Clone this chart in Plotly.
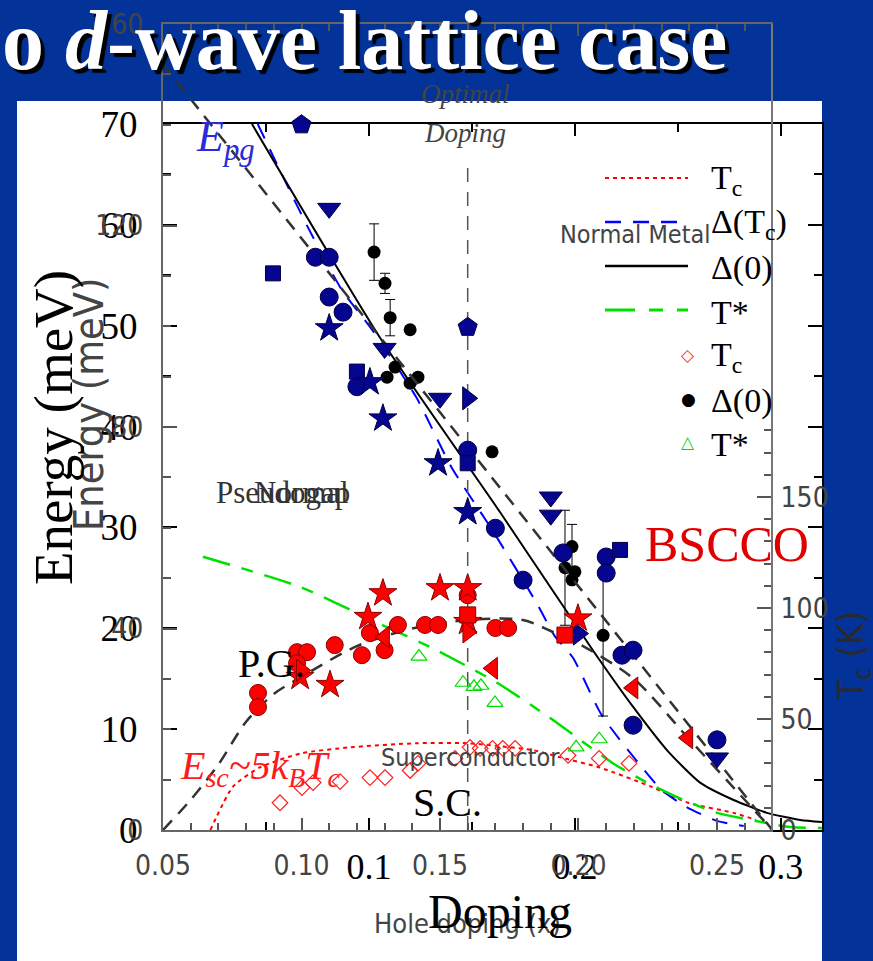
import plotly.graph_objects as go

W, H = 873, 961

def px(x):
    return x / W

def py(y):
    return 1 - y / H

SERIF = "Liberation Serif, Times New Roman, serif"
NARROW = "Liberation Sans Narrow, DejaVu Sans Condensed, Arial Narrow, sans-serif"
GRAY = "#444444"

# ---------------- slide (model) curves : doping vs energy (meV) ----------------
TC_CURVE_X = [0.023, 0.034, 0.047, 0.067, 0.091, 0.123, 0.148, 0.180, 0.193, 0.212, 0.237, 0.255, 0.277, 0.288]
TC_CURVE_E = [0.0, 4.3, 6.2, 7.6, 8.2, 8.6, 8.6, 7.9, 7.2, 6.2, 4.3, 2.7, 1.7, 1.0]

DTC_CURVE_X = [0.046, 0.062, 0.071, 0.087, 0.1015, 0.123, 0.140, 0.160, 0.182, 0.190, 0.199, 0.213, 0.231, 0.242, 0.254, 0.269, 0.282]
DTC_CURVE_E = [70.0, 63.2, 59.5, 53.5, 49.6, 42.9, 36.0, 29.7, 22.3, 19.3, 17.1, 11.4, 6.6, 4.0, 2.3, 0.9, 0.4]

D0_CURVE_X = [0.0432, 0.1054, 0.1637, 0.2088, 0.2283, 0.2448, 0.2608, 0.2768, 0.2933, 0.3094, 0.320]
D0_CURVE_E = [70.0, 48.8, 31.5, 17.8, 12.2, 7.9, 4.7, 3.0, 1.7, 1.0, 0.8]

TSTAR_CURVE_X = [0.0194, 0.0665, 0.1068, 0.1311, 0.1622, 0.188, 0.2186, 0.2351, 0.2525, 0.2691, 0.2851, 0.3045, 0.320]
TSTAR_CURVE_E = [27.1, 24.1, 20.3, 18.0, 14.6, 11.1, 6.6, 4.7, 3.0, 1.7, 1.0, 0.3, 0.2]

# slide experimental points
TC_PTS_X = [0.0568, 0.0675, 0.0729, 0.086, 0.1005, 0.1078, 0.120, 0.1238, 0.1418, 0.1491, 0.154, 0.160, 0.165, 0.171, 0.1967, 0.2118, 0.2263]
TC_PTS_E = [2.7, 4.2, 4.7, 4.8, 5.2, 5.2, 5.9, 6.6, 7.1, 8.2, 8.1, 8.1, 8.1, 8.1, 7.4, 7.1, 6.6]

D0_PTS_X = [0.1025, 0.1078, 0.1103, 0.120, 0.1088, 0.1127, 0.120, 0.1238, 0.1598, 0.1986, 0.1952, 0.200, 0.1986, 0.2137]
D0_PTS_E = [57.3, 54.2, 50.8, 49.6, 44.9, 45.9, 44.3, 44.9, 37.5, 28.1, 26.0, 25.6, 24.8, 19.3]
D0_PTS_ERR = [2.8, 1.0, 1.8, 0, 0, 0, 0, 0, 0, 2.2, 5.7, 0, 0, 8.0]

TSTAR_PTS_X = [0.1243, 0.1457, 0.151, 0.1544, 0.1612, 0.2006, 0.2118]
TSTAR_PTS_E = [17.2, 14.6, 14.2, 14.3, 12.6, 8.2, 9.0]

# ---------------- inset (compiled data): hole doping vs energy (meV) ----------------
EPG_LINE_X = [0.05, 0.27]
EPG_LINE_E = [152.0, 0.0]
ESC_DOME_X = [0.05, 0.06, 0.07, 0.08, 0.09, 0.10, 0.12, 0.14, 0.16, 0.18, 0.19, 0.20, 0.22, 0.24, 0.26, 0.27]
ESC_DOME_E = [0.0, 6.0, 13.0, 21.5, 27.0, 30.4, 36.5, 40.0, 41.7, 41.7, 39.5, 37.0, 30.0, 18.0, 6.0, 0.0]
OPT_X = [0.16, 0.16]
OPT_E = [0.0, 133.0]

EPG_PENT_X = [0.100, 0.160]
EPG_PENT_E = [140.0, 99.8]
EPG_TRIDN_X = [0.110, 0.130, 0.150, 0.190, 0.190, 0.250]
EPG_TRIDN_E = [123.4, 95.6, 85.7, 66.1, 62.5, 14.3]
EPG_CIRC_X = [0.105, 0.110, 0.110, 0.115, 0.120, 0.160, 0.170, 0.180, 0.1944, 0.210, 0.210, 0.2157, 0.2197, 0.2197, 0.250]
EPG_CIRC_E = [113.7, 113.7, 105.8, 102.8, 88.0, 75.4, 59.9, 49.6, 55.0, 54.2, 51.0, 34.7, 35.7, 20.8, 17.9]
EPG_SQ_X = [0.0897, 0.120, 0.160, 0.215]
EPG_SQ_E = [110.5, 91.0, 72.8, 55.6]
EPG_STAR_X = [0.110, 0.1247, 0.1294, 0.1493, 0.160]
EPG_STAR_E = [99.6, 88.9, 81.7, 72.8, 63.1]
EPG_TRIR_X = [0.160, 0.200]
EPG_TRIR_E = [85.7, 39.0]

ESC_CIRC_X = [0.0843, 0.0843, 0.0984, 0.102, 0.0984, 0.112, 0.1218, 0.1247, 0.130, 0.1348, 0.1446, 0.1493, 0.170, 0.1746, 0.160]
ESC_CIRC_E = [27.2, 24.4, 35.3, 35.3, 33.1, 36.7, 34.7, 39.1, 35.7, 40.7, 40.7, 40.7, 40.1, 40.1, 46.6]
ESC_STAR_X = [0.0995, 0.1103, 0.124, 0.1294, 0.150, 0.160, 0.160, 0.1998]
ESC_STAR_E = [30.4, 28.8, 42.3, 47.0, 48.0, 48.0, 41.3, 42.0]
ESC_SQ_X = [0.160, 0.1951]
ESC_SQ_E = [42.7, 38.7]
ESC_TRIR_X = [0.0999, 0.160]
ESC_TRIR_E = [31.7, 39.3]
ESC_TRIL_X = [0.130, 0.169, 0.2197, 0.2395]
ESC_TRIL_E = [38.3, 32.1, 28.2, 18.3]

# ---------------- ticks ----------------
SLIDE_Y_TICKS = [0, 10, 20, 30, 40, 50, 60, 70]
SLIDE_X_TICKS = [0.1, 0.2, 0.3]
SLIDE_X_LABELS = ["0.1", "0.2", "0.3"]
INSET_Y_TICKS = [0, 40, 80, 120, 160]
INSET_X_TICKS = [0.05, 0.10, 0.15, 0.20, 0.25]
INSET_X_LABELS = ["0.05", "0.10", "0.15", "0.20", "0.25"]
TC_TICKS = [0, 50, 100, 150]
TC_MINOR = [10, 20, 30, 40, 60, 70, 80, 90, 110, 120, 130, 140, 160, 170, 180]

LEGEND_LABELS = ["T<sub>c</sub>", "Δ(T<sub>c</sub>)", "Δ(0)", "T*", "T<sub>c</sub>", "Δ(0)", "T*"]

fig = go.Figure()

# ---- inset lines (x2/y2)
fig.add_trace(go.Scatter(x=EPG_LINE_X, y=EPG_LINE_E, mode="lines", xaxis="x2", yaxis="y2",
                         line=dict(color="#333333", width=2.5, dash="13px,9px"), hoverinfo="skip"))
fig.add_trace(go.Scatter(x=ESC_DOME_X, y=ESC_DOME_E, mode="lines", xaxis="x2", yaxis="y2",
                         line=dict(color="#333333", width=2.5, dash="13px,9px", shape="spline", smoothing=0.8),
                         hoverinfo="skip"))
fig.add_trace(go.Scatter(x=OPT_X, y=OPT_E, mode="lines", xaxis="x2", yaxis="y2",
                         line=dict(color="#555555", width=1.5, dash="14px,10px"), hoverinfo="skip"))

# ---- slide curves (x/y)
def slide_line(x, y, color, dash, width):
    fig.add_trace(go.Scatter(x=x, y=y, mode="lines", xaxis="x", yaxis="y",
                             line=dict(color=color, dash=dash, width=width, shape="spline", smoothing=0.6),
                             hoverinfo="skip"))

slide_line(TC_CURVE_X, TC_CURVE_E, "#ff0000", "4px,4px", 2)
slide_line(DTC_CURVE_X, DTC_CURVE_E, "#0000ff", "16px,12px", 2)
slide_line(D0_CURVE_X, D0_CURVE_E, "#000000", "solid", 2)
slide_line(TSTAR_CURVE_X, TSTAR_CURVE_E, "#00e000", "28px,12px,12px,12px", 2.5)

# ---- slide points
fig.add_trace(go.Scatter(x=TC_PTS_X, y=TC_PTS_E, mode="markers", xaxis="x", yaxis="y",
                         marker=dict(symbol="diamond-open", size=12, color="#ff2020", line=dict(width=1.2)),
                         hoverinfo="skip"))
fig.add_trace(go.Scatter(x=TSTAR_PTS_X, y=TSTAR_PTS_E, mode="markers", xaxis="x", yaxis="y",
                         marker=dict(symbol="triangle-up-open", size=14, color="#00dd00", line=dict(width=1.2)),
                         hoverinfo="skip"))
fig.add_trace(go.Scatter(x=D0_PTS_X, y=D0_PTS_E, mode="markers", xaxis="x", yaxis="y",
                         marker=dict(symbol="circle", size=13, color="#000000"),
                         error_y=dict(type="data", array=D0_PTS_ERR, color="#000000", thickness=1, width=5),
                         hoverinfo="skip"))

# ---- inset markers
def inset_markers(x, y, symbol, color, edge, size):
    fig.add_trace(go.Scatter(x=x, y=y, mode="markers", xaxis="x2", yaxis="y2",
                             marker=dict(symbol=symbol, size=size, color=color, line=dict(color=edge, width=1)),
                             hoverinfo="skip"))

BLUE, BLUE_EDGE = "#05058f", "#000044"
RED, RED_EDGE = "#ff0000", "#880000"
inset_markers(EPG_PENT_X, EPG_PENT_E, "pentagon", BLUE, BLUE_EDGE, 20)
inset_markers(EPG_TRIDN_X, EPG_TRIDN_E, "triangle-down", BLUE, BLUE_EDGE, 20)
inset_markers(EPG_CIRC_X, EPG_CIRC_E, "circle", BLUE, BLUE_EDGE, 18)
inset_markers(EPG_SQ_X, EPG_SQ_E, "square", BLUE, BLUE_EDGE, 15)
inset_markers(EPG_STAR_X, EPG_STAR_E, "star", BLUE, BLUE_EDGE, 21)
inset_markers(EPG_TRIR_X, EPG_TRIR_E, "triangle-right", BLUE, BLUE_EDGE, 20)
inset_markers(ESC_CIRC_X, ESC_CIRC_E, "circle", RED, RED_EDGE, 17)
inset_markers(ESC_STAR_X, ESC_STAR_E, "star", RED, RED_EDGE, 21)
inset_markers(ESC_SQ_X, ESC_SQ_E, "square", RED, RED_EDGE, 16)
inset_markers(ESC_TRIR_X, ESC_TRIR_E, "triangle-right", RED, RED_EDGE, 19)
inset_markers(ESC_TRIL_X, ESC_TRIL_E, "triangle-left", RED, RED_EDGE, 19)

# empty trace to register the Tc axis subplot
fig.add_trace(go.Scatter(x=[], y=[], mode="markers", xaxis="x2", yaxis="y3", hoverinfo="skip"))

# ---------------- axes ----------------
SLIDE_DOM_X = [px(163), px(822)]
SLIDE_DOM_Y = [py(830), py(124)]
INSET_DOM_X = [px(163), px(771)]
INSET_DOM_Y = [py(830), py(24)]

fig.update_layout(
    xaxis=dict(domain=SLIDE_DOM_X, range=[0, 0.32], anchor="y", showgrid=False, zeroline=False,
               showline=True, linecolor="black", linewidth=2, mirror="ticks",
               ticks="inside", ticklen=12, tickwidth=1.5, tickcolor="black",
               tickmode="array", tickvals=SLIDE_X_TICKS, ticktext=SLIDE_X_LABELS,
               minor=dict(dtick=0.05, tick0=0, ticks="inside", ticklen=8, tickcolor="black"),
               tickfont=dict(family=SERIF, size=36, color="black"), ticklabelstandoff=4),
    yaxis=dict(domain=SLIDE_DOM_Y, range=[0, 70], anchor="x", showgrid=False, zeroline=False,
               showline=True, linecolor="black", linewidth=2, mirror="ticks",
               ticks="inside", ticklen=14, tickwidth=1.5, tickcolor="black",
               tickmode="array", tickvals=SLIDE_Y_TICKS,
               minor=dict(dtick=5, tick0=0, ticks="inside", ticklen=8, tickcolor="black"),
               tickfont=dict(family=SERIF, size=37, color="black"), ticklabelstandoff=16),
    xaxis2=dict(domain=INSET_DOM_X, range=[0.05, 0.2695], anchor="y2", showgrid=False, zeroline=False,
                showline=True, linecolor="#666666", linewidth=2, mirror="ticks",
                ticks="inside", ticklen=12, tickwidth=1.5, tickcolor="#555555",
                tickmode="array", tickvals=INSET_X_TICKS, ticktext=INSET_X_LABELS,
                minor=dict(dtick=0.01, tick0=0.05, ticks="inside", ticklen=7, tickcolor="#555555"),
                tickfont=dict(family=NARROW, size=28, color=GRAY), ticklabelstandoff=9),
    yaxis2=dict(domain=INSET_DOM_Y, range=[0, 160], anchor="x2", showgrid=False, zeroline=False,
                showline=True, linecolor="#666666", linewidth=2,
                ticks="inside", ticklen=14, tickwidth=1.5, tickcolor="#555555",
                tickmode="array", tickvals=INSET_Y_TICKS,
                minor=dict(dtick=10, tick0=0, ticks="inside", ticklen=8, tickcolor="#555555"),
                tickfont=dict(family=NARROW, size=28, color=GRAY), ticklabelstandoff=12),
    yaxis3=dict(overlaying="y2", side="right", anchor="x2", range=[0, 363], showgrid=False, zeroline=False,
                showline=True, linecolor="#777777", linewidth=2,
                ticks="inside", ticklen=14, tickwidth=1.5, tickcolor="#555555",
                tickmode="array", tickvals=TC_TICKS,
                minor=dict(tickvals=TC_MINOR, ticks="inside", ticklen=7, tickcolor="#555555"),
                tickfont=dict(family=NARROW, size=28, color=GRAY), ticklabelstandoff=2),
)

# ---------------- background ----------------
shapes = [
    dict(type="rect", xref="paper", yref="paper", x0=px(17), x1=px(822), y0=0, y1=py(101),
         fillcolor="white", line=dict(width=0), layer="below"),
]

# legend samples (line styles)
LEG_ROWS = [178, 222, 266, 310, 355, 399, 442]
LEG_STYLES = [("#ff0000", "4px,4px", 2), ("#0000ff", "16px,12px", 2.5),
              ("#000000", "solid", 2.5), ("#00e000", "30px,14px,14px,14px", 3)]
for (c, d, w), yy in zip(LEG_STYLES, LEG_ROWS[:4]):
    shapes.append(dict(type="line", xref="paper", yref="paper", x0=px(605), x1=px(688), y0=py(yy), y1=py(yy),
                       line=dict(color=c, dash=d, width=w)))

fig.update_layout(shapes=shapes)

def text(t, x, y, size, color="black", family=SERIF, xanchor="center", yanchor="middle", angle=0, shadow=None):
    f = dict(family=family, size=size, color=color)
    if shadow:
        f["shadow"] = shadow
    fig.add_annotation(text=t, x=px(x), y=py(y), xref="paper", yref="paper", showarrow=False,
                       font=f, xanchor=xanchor, yanchor=yanchor, textangle=angle)

# title
text("<b>o <i>d</i>-wave lattice case</b>", 0, 40, 84, color="white", xanchor="left",
     shadow="4px 4px 1px #000000")

# legend labels & markers
for lab, yy in zip(LEGEND_LABELS, LEG_ROWS):
    text(lab, 709, yy + 2, 34, xanchor="left")
text("◇", 688, LEG_ROWS[4], 17, color="#ff3030", family="DejaVu Sans")
text("●", 688, LEG_ROWS[5], 17, color="black", family="DejaVu Sans")
text("△", 688, LEG_ROWS[6], 17, color="#00dd00", family="DejaVu Sans")

# inset annotations
text("<i>Optimal</i>", 465, 94, 27, color=GRAY)
text("<i>Doping</i>", 465, 133, 27, color=GRAY)
text("Normal Metal", 635, 234, 25, color=GRAY, family=NARROW)
text("Superconductor", 470, 757, 25, color=GRAY, family=NARROW)
text("Pseudogap", 214, 492, 31, color="#333333", xanchor="left")
text("Normal", 351, 492, 31, color="#333333", xanchor="right")
text("Energy (meV)", 89, 405, 41, color=GRAY, family=NARROW, angle=-90)
text("Hole doping (x)", 467, 923, 27, color=GRAY, family=NARROW)
text("T<sub>c</sub> (K)", 853, 656, 36, color="#2a2a2a", family=NARROW, angle=-90)

# slide annotations
text("<i>E<sub>pg</sub></i>", 194, 140, 44, color="#2a2ad8", xanchor="left")
text("<i>E<sub>sc</sub>~5k<sub>B</sub>T<sub>c</sub></i>", 178, 768, 40, color="#ff1a1a", xanchor="left")
text("P.G.", 236, 663, 40, xanchor="left")
text("S.C.", 411, 802, 40, xanchor="left")
text("BSCCO", 727, 544, 50, color="#e00000")
text("Energy (meV)", 53, 428, 55, angle=-90)
text("Doping", 500, 911, 48)

fig.update_layout(
    width=W, height=H, template="none",
    margin=dict(l=0, r=0, t=0, b=0, pad=0),
    paper_bgcolor="#033399", plot_bgcolor="rgba(0,0,0,0)",
    showlegend=False,
)

fig.write_html("out.html", config={"displayModeBar": False},
               post_script="document.body.style.margin='0px';document.body.style.overflow='hidden';")
